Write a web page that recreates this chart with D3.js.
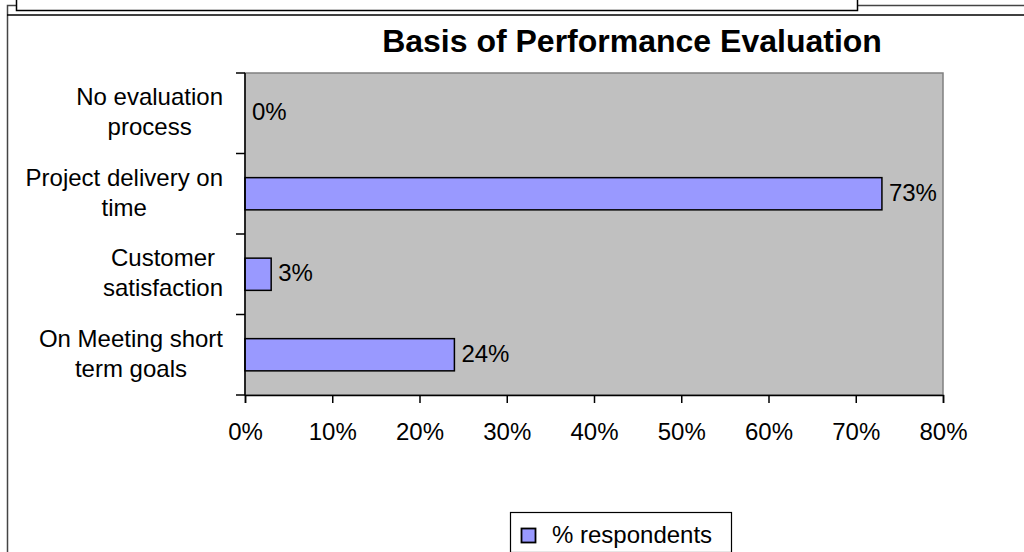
<!DOCTYPE html>
<html>
<head>
<meta charset="utf-8">
<script src="https://cdn.jsdelivr.net/npm/d3@7"></script>
<style>
  body { margin: 0; background: #fff; }
  text { font-family: "Liberation Sans", Arial, sans-serif; fill: #000; }
</style>
</head>
<body>
<script>
var categories = [["No evaluation", "process"], ["Project delivery on", "time"], ["Customer", "satisfaction"], ["On Meeting short", "term goals"]];
var values = [0, 73, 3, 24];
var ticks = [0, 10, 20, 30, 40, 50, 60, 70, 80];
var seriesName = "% respondents";

var width = 1024, height = 552;
var plot = {left: 245, top: 73, right: 943, bottom: 395};
var font = "Liberation Sans, Arial, sans-serif";

var svg = d3.select("body").append("svg")
    .attr("width", width)
    .attr("height", height);

// frames around the chart
svg.append("rect").attr("x", 7.5).attr("y", 5.5).attr("width", 1030).attr("height", 600)
    .attr("fill", "none").attr("stroke", "#444").attr("stroke-width", 1.5);
svg.append("line").attr("x1", 7).attr("x2", width).attr("y1", 15).attr("y2", 15)
    .attr("stroke", "#000").attr("stroke-width", 1.5);
svg.append("rect").attr("x", 16.5).attr("y", -10).attr("width", 841).attr("height", 20.5)
    .attr("fill", "#fff").attr("stroke", "#000").attr("stroke-width", 1.5);

var x = d3.scaleLinear().domain([0, 80]).range([plot.left, plot.right]);
var y = d3.scaleBand().domain(d3.range(categories.length)).range([plot.top, plot.bottom]).paddingInner(0.6).paddingOuter(0.3);
var yb = d3.scaleBand().domain(d3.range(categories.length)).range([plot.top, plot.bottom]);

svg.append("rect")
    .attr("x", plot.left).attr("y", plot.top)
    .attr("width", plot.right - plot.left).attr("height", plot.bottom - plot.top)
    .attr("fill", "#c0c0c0").attr("stroke", "#808080").attr("stroke-width", 1.5);

svg.append("text")
    .attr("x", 632).attr("y", 52)
    .attr("text-anchor", "middle")
    .style("font-size", "32px").style("font-weight", "bold")
    .text("Basis of Performance Evaluation");

svg.selectAll(".bar")
    .data(values)
    .enter().append("rect")
    .attr("class", "bar")
    .attr("x", x(0))
    .attr("y", function(d, i) { return y(i); })
    .attr("width", function(d) { return x(d) - x(0); })
    .attr("height", y.bandwidth())
    .attr("fill", "#9999ff").attr("stroke", "#000").attr("stroke-width", 1.5)
    .style("display", function(d) { return d > 0 ? null : "none"; });

svg.selectAll(".val")
    .data(values)
    .enter().append("text")
    .attr("class", "val")
    .attr("x", function(d) { return x(d) + 7; })
    .attr("y", function(d, i) { return y(i) + y.bandwidth() / 2; })
    .attr("dy", "0.3em")
    .style("font-size", "24px")
    .text(function(d) { return d + "%"; });

// x axis
var xAxis = d3.axisBottom(x).tickValues(ticks).tickSize(8).tickFormat(function(d) { return d + "%"; });
var gx = svg.append("g").attr("transform", "translate(0," + plot.bottom + ")").call(xAxis);
gx.select(".domain").attr("stroke", "#000").attr("stroke-width", 1.5);
gx.selectAll(".tick line").attr("stroke", "#000").attr("stroke-width", 1.5);
gx.selectAll(".tick text").attr("y", 45).attr("dy", 0)
    .style("font-size", "24px").style("font-family", font);

// y axis line and ticks at category boundaries
svg.append("line").attr("x1", plot.left).attr("x2", plot.left).attr("y1", plot.top).attr("y2", plot.bottom)
    .attr("stroke", "#000").attr("stroke-width", 1.5);
var bounds = d3.range(categories.length + 1).map(function(i) { return plot.top + i * yb.step(); });
svg.selectAll(".ytick").data(bounds).enter().append("line")
    .attr("x1", plot.left - 9).attr("x2", plot.left)
    .attr("y1", function(d) { return d; }).attr("y2", function(d) { return d; })
    .attr("stroke", "#000").attr("stroke-width", 1.5);

// category labels: block right-aligned, lines centered inside the block
var labels = svg.selectAll(".cat").data(categories).enter().append("text")
    .attr("class", "cat")
    .attr("text-anchor", "middle")
    .attr("y", function(d, i) { return yb(i) + yb.bandwidth() / 2; })
    .style("font-size", "24px");
labels.selectAll("tspan").data(function(d) { return d; }).enter().append("tspan")
    .attr("dy", function(d, i) { return i === 0 ? "-8px" : "30px"; })
    .text(function(d) { return d; });
labels.each(function() {
    var w = 0;
    d3.select(this).selectAll("tspan").each(function() { w = Math.max(w, this.getComputedTextLength()); });
    d3.select(this).selectAll("tspan").attr("x", 223 - w / 2);
});

// legend
var lg = svg.append("g");
lg.append("rect").attr("x", 510.5).attr("y", 512.5).attr("width", 221).attr("height", 40)
    .attr("fill", "#fff").attr("stroke", "#000").attr("stroke-width", 1.2);
lg.append("rect").attr("x", 521.5).attr("y", 528.5).attr("width", 14).attr("height", 14)
    .attr("fill", "#9999ff").attr("stroke", "#000").attr("stroke-width", 1.8);
lg.append("text").attr("x", 552).attr("y", 543)
    .style("font-size", "24px").text(seriesName);
</script>
</body>
</html>
